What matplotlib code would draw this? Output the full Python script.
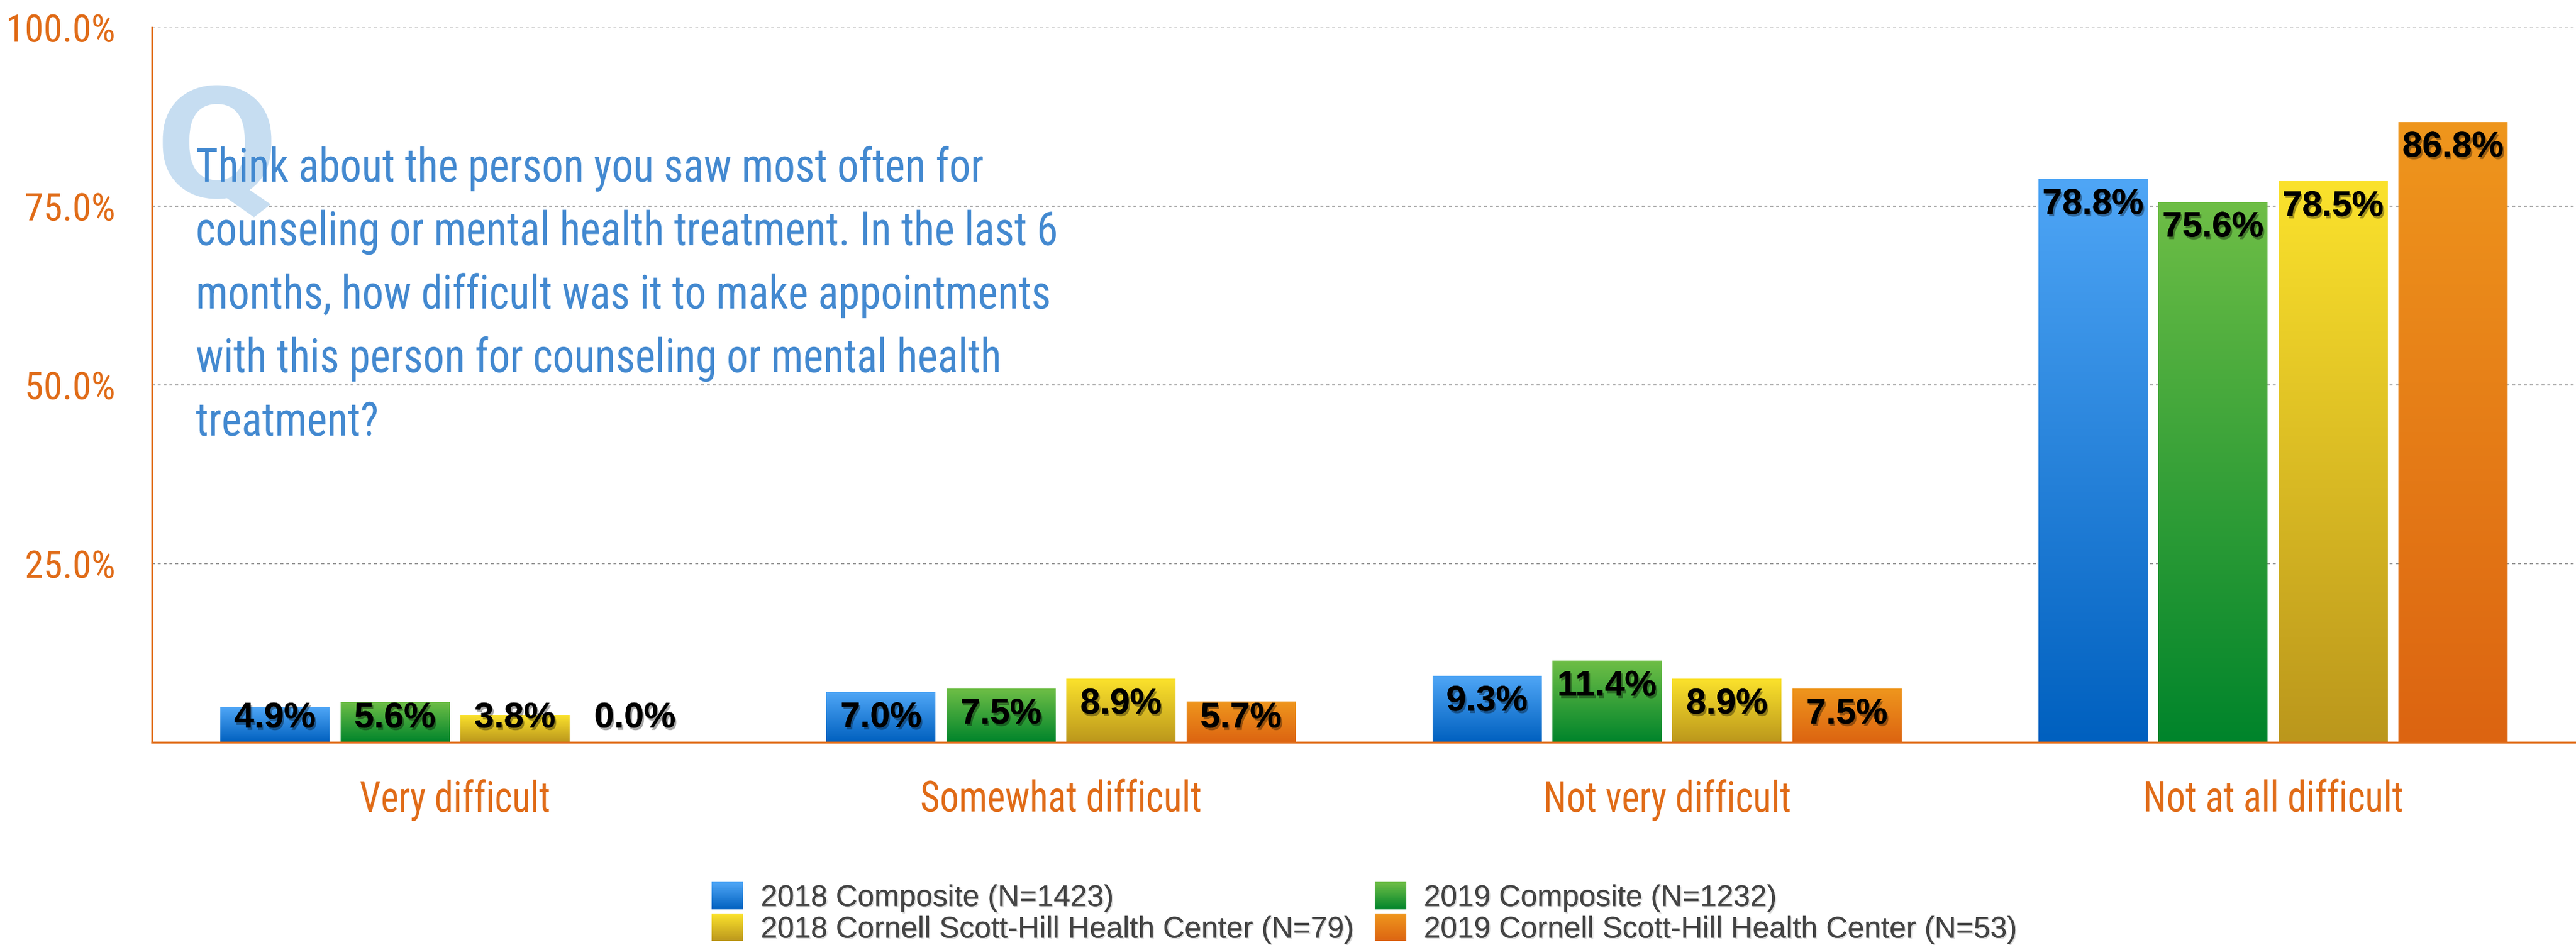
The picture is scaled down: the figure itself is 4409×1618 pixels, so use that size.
import numpy as np
import matplotlib
matplotlib.use("Agg")
import matplotlib.pyplot as plt
from matplotlib import font_manager as fm
from matplotlib.patches import Rectangle
from matplotlib.legend_handler import HandlerBase
import matplotlib.patheffects as pe
from matplotlib.patheffects import AbstractPathEffect
from matplotlib.transforms import Affine2D
from matplotlib.colors import to_rgb

# ---------------- data ----------------
categories = ["Very difficult", "Somewhat difficult", "Not very difficult", "Not at all difficult"]
series_names = ["2018 Composite (N=1423)", "2019 Composite (N=1232)",
                "2018 Cornell Scott-Hill Health Center (N=79)", "2019 Cornell Scott-Hill Health Center (N=53)"]
comp_2018 = [4.9, 7.0, 9.3, 78.8]
comp_2019 = [5.6, 7.5, 11.4, 75.6]
cshhc_2018 = [3.8, 8.9, 8.9, 78.5]
cshhc_2019 = [0.0, 5.7, 7.5, 86.8]
yticks = [25, 50, 75, 100]
ytick_labels = ["25.0%", "50.0%", "75.0%", "100.0%"]
question_lines = ["Think about the person you saw most often for",
                  "counseling or mental health treatment. In the last 6",
                  "months, how difficult was it to make appointments",
                  "with this person for counseling or mental health",
                  "treatment?"]

series = [comp_2018, comp_2019, cshhc_2018, cshhc_2019]
grad_colors = [("#4fa6f6", "#0060bf"), ("#6ebe46", "#00842b"),
               ("#fbe22c", "#bb971c"), ("#ef961d", "#dc6411")]

ORANGE = "#e06b17"
QBLUE = "#4389d0"

names = {f.name for f in fm.fontManager.ttflist}
def pick(*cands):
    for c in cands:
        if c in names:
            return c
    return "DejaVu Sans"
COND = pick("Roboto Condensed", "Liberation Sans Narrow", "Roboto", "Liberation Sans")
ROBO = pick("Roboto", "Liberation Sans")
HELV = pick("Liberation Sans", "Arial", "DejaVu Sans")
# extra horizontal factor if no condensed family is present
CF = 1.0 if COND in ("Roboto Condensed", "Liberation Sans Narrow") else 0.89


class Condense(AbstractPathEffect):
    """Horizontally compress/stretch the glyph outlines."""
    def __init__(self, sx, anchor="left"):
        super().__init__()
        self.sx = sx
        self.anchor = anchor

    def draw_path(self, renderer, gc, tpath, affine, rgbFace=None):
        ext = tpath.get_extents()
        if self.anchor == "center":
            cx = (ext.x0 + ext.x1) / 2
        elif self.anchor == "right":
            cx = ext.x1
        else:
            cx = 0.0
        a = Affine2D().translate(-cx, 0).scale(self.sx, 1).translate(cx, 0) + affine
        renderer.draw_path(gc, tpath, a, rgbFace)


W, H = 4409, 1618
fig = plt.figure(figsize=(W / 100, H / 100), dpi=100)
ax = fig.add_axes([260 / W, (H - 1271) / H, (W - 260) / W, (1271 - 47) / H])

x = np.arange(len(categories))
bw = 0.18
step = 0.198
offsets = (np.arange(4) - 1.5) * step

for si, vals in enumerate(series):
    bars = ax.bar(x + offsets[si], vals, width=bw, color=grad_colors[si][0], zorder=3, linewidth=0)
    top, bot = grad_colors[si]
    grad = np.linspace(0, 1, 256)[:, None]
    c_top = np.array(to_rgb(top)); c_bot = np.array(to_rgb(bot))
    img = c_bot[None, None, :] * (1 - grad[..., None]) + c_top[None, None, :] * grad[..., None]
    for b in bars:
        h = b.get_height()
        if h <= 0:
            continue
        x0 = b.get_x()
        im = ax.imshow(img, extent=[x0, x0 + b.get_width(), 0, h], origin="lower",
                       aspect="auto", zorder=3.5, interpolation="bilinear")
        im.set_clip_path(b)
    for xi, v in zip(x + offsets[si], vals):
        yl = max(v - 3.6, 3.35)
        ax.text(xi, yl, f"{v:.1f}%", ha="center", va="center", fontsize=44,
                fontfamily=HELV, fontweight="bold", color="black", zorder=5,
                path_effects=[pe.withSimplePatchShadow(offset=(2, -3), shadow_rgbFace="black", alpha=0.35),
                              pe.Normal()])

ax.set_xlim(-0.5, len(categories) - 0.5)
ax.set_ylim(0, 100)
ax.set_yticks(yticks)
ax.set_yticklabels(ytick_labels)
ax.set_xticks(x)
ax.set_xticklabels(categories)
ax.tick_params(axis="y", length=0, pad=45, labelsize=47, labelcolor=ORANGE)
ax.tick_params(axis="x", length=0, pad=45, labelsize=53, labelcolor=ORANGE)
for lab in ax.get_yticklabels():
    lab.set_fontfamily(COND)
    lab.set_path_effects([Condense(1.0 * CF, "right")])
for lab in ax.get_xticklabels():
    lab.set_fontfamily(COND)
    lab.set_path_effects([Condense(0.88 * CF, "center")])

ax.yaxis.grid(True, color="#9a9a9a", linewidth=1.5, linestyle=(0, (2.4, 2.4)), zorder=0)
ax.set_axisbelow(True)
for s in ["top", "right"]:
    ax.spines[s].set_visible(False)
ax.spines["left"].set_color(ORANGE)
ax.spines["bottom"].set_color(ORANGE)
ax.spines["left"].set_linewidth(2.2)
ax.spines["bottom"].set_linewidth(2.5)
ax.spines["bottom"].set_zorder(4)

# question watermark and text
ax.text(266, H - 338, "Q", transform=None, fontsize=192, fontfamily=ROBO, fontweight="bold",
        color="#c6ddf1", ha="left", va="baseline", zorder=1,
        path_effects=[Condense(1.15, "left")])
for i, line in enumerate(question_lines):
    ax.text(335, H - (311 + i * 108.7), line, transform=None, fontsize=58, fontfamily=COND,
            color=QBLUE, ha="left", va="baseline", zorder=2,
            path_effects=[Condense(0.91 * CF, "left")])

# legend with gradient swatches
class GradProxy:
    def __init__(self, colors):
        self.colors = colors

class GradHandler(HandlerBase):
    def create_artists(self, legend, orig_handle, xdescent, ydescent, width, height, fontsize, trans):
        top, bot = orig_handle.colors
        ct = np.array(to_rgb(top)); cb = np.array(to_rgb(bot))
        n = 30
        arts = []
        for k in range(n):
            f = (k + 0.5) / n
            c = cb * (1 - f) + ct * f
            r = Rectangle((-xdescent, -ydescent + height * k / n), width, height / n + 0.3,
                          facecolor=c, edgecolor="none", transform=trans)
            arts.append(r)
        return arts

proxies = [GradProxy(c) for c in grad_colors]
order = [0, 2, 1, 3]
leg = ax.legend([proxies[i] for i in order], [series_names[i] for i in order],
                handler_map={GradProxy: GradHandler()}, ncol=2, loc="center",
                bbox_to_anchor=(0.5, -0.239), frameon=False,
                prop={"family": HELV, "size": 37}, handlelength=1.05, handleheight=1.0,
                handletextpad=0.58, columnspacing=0.72, labelspacing=0.05, borderpad=0.1)
for t in leg.get_texts():
    t.set_color("#444444")
    t.set_path_effects([pe.withSimplePatchShadow(offset=(1.5, -1.5), shadow_rgbFace="#888888", alpha=0.3),
                        pe.Normal()])

fig.savefig("out.png", dpi=100)
